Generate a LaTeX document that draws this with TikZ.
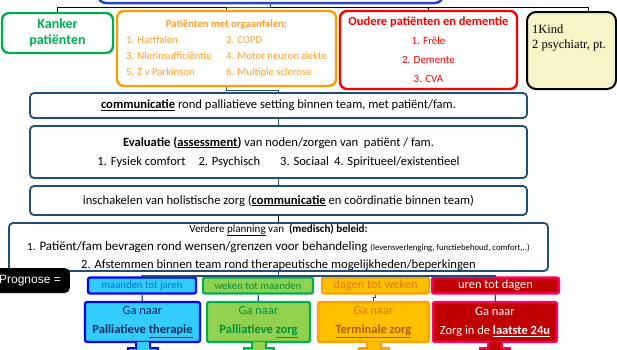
\documentclass[tikz,border=0pt]{standalone}
\usepackage{fontspec}
\setmainfont{Carlito}
\newfontfamily\seriffont{Liberation Serif}
\newfontfamily\arialfont{Liberation Sans}
\usepackage{tikz}

\definecolor{navy}{HTML}{1F4E79}
\definecolor{topblue}{HTML}{2546C6}
\definecolor{kgreen}{HTML}{00B050}
\definecolor{orgline}{HTML}{FF9C00}
\definecolor{orgtext}{HTML}{F9A035}
\definecolor{kidfill}{HTML}{F5F5C8}
\definecolor{cyanfill}{HTML}{33CCFF}
\definecolor{blueline}{HTML}{0000FF}
\definecolor{bluetext}{HTML}{0070C0}
\definecolor{navytext}{HTML}{102A5C}
\definecolor{lgreen}{HTML}{92D050}
\definecolor{greentext}{HTML}{00913C}
\definecolor{amber}{HTML}{FFC000}
\definecolor{amberline}{HTML}{FF9F00}
\definecolor{ambertext}{HTML}{DE7A12}
\definecolor{brown}{HTML}{B55A0C}
\definecolor{darkred}{HTML}{C00000}
\definecolor{pinkline}{HTML}{FF0066}

\begin{document}
\begin{tikzpicture}[x=1pt, y=-1pt,
	box/.style = {draw=navy, line width=1.8pt, rounded corners=4pt, fill=white, align=center, inner sep=0pt},
	group/.style = {line width=2.4pt, rounded corners=7pt, fill=white, align=center, inner sep=0pt},
	prog/.style = {line width=2.2pt, rounded corners=2pt, inner sep=0pt, minimum height=16pt},
	goto/.style = {line width=2.2pt, rounded corners=2pt, inner sep=0pt, minimum height=40pt, align=center, font=\fontsize{12.5}{19}\selectfont},
	link/.style = {navy, line width=1.2pt},
]
\useasboundingbox (0,0) rectangle (617,349);

% groups of patients
\node[group, draw=topblue, line width=2.5pt, rounded corners=8pt, minimum width=345, minimum height=30] (top) at (270.5,-12) {};
\node[group, draw=kgreen, text=kgreen, minimum width=111, minimum height=40,
	font=\fontsize{14}{16}\selectfont\bfseries] (kanker) at (57.5,33) {Kanker\\patiënten};
\node[group, draw=orgline, text=orgtext, minimum width=219, minimum height=75,
	font=\fontsize{10.7}{16}\selectfont] (organ) at (226.5,48.5)
	{\begin{tabular}{@{}p{100pt}@{}l@{}}
		\multicolumn{2}{@{}c@{}}{\bfseries Patiënten met orgaanfalen:}\\
		1. Hartfalen & 2. COPD\\
		3. Nierinsufficiëntie & 4. Motor neuron ziekte\\
		5. Z v Parkinson & 6. Multiple sclerose
	\end{tabular}};
\node[group, draw=red, text=red, minimum width=177, minimum height=78,
	font=\fontsize{11}{19}\selectfont] (elderly) at (428.5,50)
	{{\fontsize{12.5}{19}\selectfont\bfseries Oudere patiënten en dementie}\\1. Frêle\\2. Demente\\3. CVA};
\node[group, draw=black, fill=kidfill, line width=2pt, rounded corners=9pt, minimum width=89, minimum height=77] (kid) at (571.5,50.5) {};
\node[anchor=north west, align=left, inner sep=0pt, font=\seriffont\fontsize{12.5}{15}\selectfont]
	(kidtxt) at ([xshift=6pt, yshift=-14pt]kid.north west) {1Kind\\2 psychiatr, pt.};

% steps
\node[box, minimum width=497, minimum height=25, font=\fontsize{12.6}{18}\selectfont] (comm) at (278.5,105.5)
	{\underline{\textbf{communicatie}} rond palliatieve setting binnen team, met patiënt/fam.};
\node[box, minimum width=497, minimum height=52, font=\fontsize{12.6}{19}\selectfont] (eval) at (278.5,152)
	{\textbf{Evaluatie (\underline{assessment})} van noden/zorgen van\ \ patiënt / fam.\\
	1. Fysiek comfort\hspace{13pt}2. Psychisch\hspace{20pt}3. Sociaal\hspace{5pt}4. Spiritueel/existentieel};
\node[box, minimum width=497, minimum height=29, font=\fontsize{12.6}{18}\selectfont] (insch) at (278.5,200.5)
	{inschakelen van holistische zorg (\underline{\textbf{communicatie}} en coördinatie binnen team)};
\node[box, minimum width=539, minimum height=48, font=\fontsize{12.6}{18}\selectfont] (plan) at (278.5,247)
	{{\fontsize{11}{18}\selectfont Verdere \underline{planning} van\ \ \textbf{(medisch) beleid:}}\\
	{\fontsize{13}{18}\selectfont {\fontsize{11}{18}\selectfont 1.} Patiënt/fam bevragen rond wensen/grenzen voor behandeling}
	{\fontsize{8.7}{18}\selectfont (levensverlenging, functiebehoud, comfort,..)}\\
	2. Afstemmen binnen team rond therapeutische mogelijkheden/beperkingen};

% prognosis
\node[fill=black, text=white, rounded corners=5pt, anchor=east, minimum height=25, inner xsep=9pt,
	font=\arialfont\fontsize{12}{14}\selectfont] (prognose) at (70,280.5) {Prognose =};

\foreach \n/\x/\w/\f/\d/\t/\s/\lab in {p1/142/108/cyanfill/blueline/bluetext/10.7/maanden tot jaren,
	p2/258/110/lgreen/kgreen/greentext/10.7/weken tot maanden,
	p3/375.5/107/amber/amberline/ambertext/12.4/dagen tot weken,
	p4/495.5/127/darkred/pinkline/white/12.4/uren tot dagen}
	\node[prog, fill=\f, draw=\d, text=\t, minimum width=\w, font=\fontsize{\s}{12}\selectfont] (\n) at (\x,285.5) {\lab};

\node[goto, fill=cyanfill, draw=blueline, text=navytext, minimum width=115] (b1) at (142.5,322)
	{Ga naar\\\textbf{Palliatieve \underline{therapie}}};
\node[goto, fill=lgreen, draw=kgreen, text=greentext, minimum width=103] (b2) at (258.5,322)
	{Ga naar\\\textbf{Palliatieve \underline{zorg}}};
\node[goto, fill=amber, draw=amberline, text=ambertext, minimum width=111] (b3) at (373.5,322)
	{Ga naar\\\textcolor{brown}{\textbf{\underline{Terminale zorg}}}};
\node[goto, fill=darkred, draw=pinkline, text=white, minimum width=124] (b4) at (495,322)
	{Ga naar\\Zorg in de \textbf{\underline{laatste 24u}}};

% arrow stems under the boxes
\foreach \n/\f/\d in {b1/cyanfill/blueline, b2/lgreen/kgreen, b3/amber/amberline, b4/darkred/pinkline}
	\filldraw[fill=\f, draw=\d, line width=2pt] ([xshift=-7pt, yshift=1.1pt]\n.south) -- ++(0,6) -- ++(-8,0) -- ++(0,16)
		-- ++(30,0) -- ++(0,-16) -- ++(-8,0) -- ++(0,-6);

% connectors
\draw[line width=1.2pt] (top.south) -- ++(0,3.5) -| (kanker.north);
\draw[line width=1.2pt] (top.south) -- ++(0,3.5) -| (elderly.north);
\draw[line width=1.2pt] (top.south) -- ++(0,3.5) -| ([xshift=17pt]kid.north);
\draw[link] (top.south) -- ++(0,3.5) -| (organ.north);
\draw[link] (organ.south) -- ++(0,3) -| (comm.north);
\draw[link] (comm) -- (eval);
\draw[link] (eval) -- (insch);
\draw[line width=1.2pt] (insch) -- (plan);
\foreach \p in {p1,p2,p3,p4}
	\draw[link] (plan.south) -- ++(0,4) -| (\p.north);
\draw[link] (p1) -- (b1);
\draw[link] (p2) -- (b2);
\draw[link] (p3.south) -- ++(0,3) -| (b3.north);
\draw[link] (p4) -- (b4);

\end{tikzpicture}
\end{document}
